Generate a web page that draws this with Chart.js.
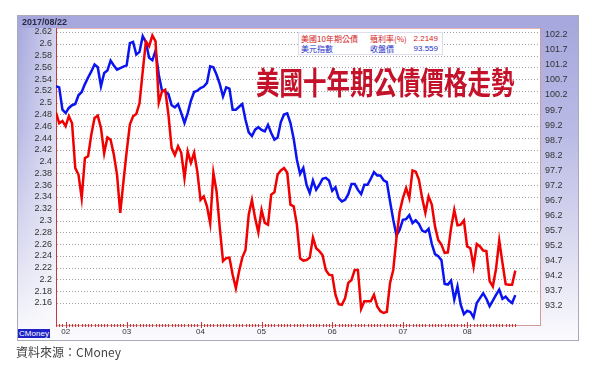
<!DOCTYPE html>
<html><head><meta charset="utf-8">
<script src="https://cdn.jsdelivr.net/npm/chart.js@4.4.1/dist/chart.umd.min.js"></script>
<style>
html,body{margin:0;padding:0;background:#fff;width:600px;height:366px;overflow:hidden;}
#wrap{position:relative;width:600px;height:366px;}
#frame{position:absolute;left:17px;top:15px;width:560px;height:324px;border:1px solid #aaaabb;
 background:linear-gradient(to bottom,#a5a7dd 0%,#b9bae5 35%,#dadaf0 70%,#fbfbfe 100%);}
#lband{position:absolute;left:18px;top:28px;width:38px;height:311px;background:linear-gradient(to right,rgba(255,255,255,0),rgba(255,255,255,0.5));}
canvas{position:absolute;left:0;top:0;}
.t{position:absolute;white-space:nowrap;}
#date{left:22px;top:17px;font:bold 9px "Liberation Sans",Arial,sans-serif;color:#2a2a44;line-height:10px;}
#legend{position:absolute;left:298px;top:32px;width:143px;height:21px;background:#fff;border:1px solid #dde;}
#legend div{position:absolute;font:8px "Noto Sans CJK TC","Liberation Sans",sans-serif;line-height:10px;white-space:nowrap;}
#title{left:256px;top:67px;font:700 23.5px "Noto Sans CJK TC",sans-serif;line-height:23.5px;color:#c4122a;transform:scaleY(1.3);transform-origin:0 0;}
#cm{left:18px;top:329px;width:32px;height:9px;background:#1e22c8;color:#fff;font:8px "Liberation Sans",Arial,sans-serif;line-height:9px;text-align:center;}
#src{left:16px;top:345px;font:12px "Noto Sans CJK TC",sans-serif;line-height:14px;color:#444;}
</style></head>
<body><div id="wrap">
<div id="frame"></div><div id="lband"></div>
<canvas id="c" width="600" height="366"></canvas>
<div class="t" id="date"></div>
<div id="legend"></div>
<div class="t" id="title"></div>
<div class="t" id="cm">CMoney</div>
<div class="t" id="src">資料來源：CMoney</div>
</div>
<script>
const asOfDate = '2017/08/22';
const chartTitle = '美國十年期公債價格走勢';
const seriesNames = ['美國10年期公債', '美元指數'];
const seriesFields = ['殖利率(%)', '收盤價'];
const months = ['02','03','04','05','06','07','08'];
const monthStartIdx = [3, 22, 45, 64, 86, 108, 128];
const leftTicks = [2.62,2.60,2.58,2.56,2.54,2.52,2.50,2.48,2.46,2.44,2.42,2.40,2.38,2.36,2.34,2.32,2.30,2.28,2.26,2.24,2.22,2.20,2.18,2.16];
const rightTicks = [102.2,101.7,101.2,100.7,100.2,99.7,99.2,98.7,98.2,97.7,97.2,96.7,96.2,95.7,95.2,94.7,94.2,93.7,93.2];

const yieldUS10Y = [
 2.483,2.465,2.469,2.460,2.477,2.465,2.389,2.378,2.338,2.406,
 2.409,2.446,2.474,2.478,2.457,2.414,2.441,2.437,2.412,2.378,
 2.313,2.366,2.417,2.463,2.477,2.481,2.499,2.553,2.604,2.596,
 2.614,2.604,2.500,2.519,2.522,2.480,2.423,2.411,2.426,2.415,
 2.372,2.417,2.398,2.415,2.383,2.335,2.341,2.324,2.295,2.381,
 2.349,2.287,2.231,2.236,2.237,2.208,2.185,2.214,2.237,2.250,
 2.310,2.335,2.304,2.280,2.318,2.296,2.293,2.344,2.348,2.378,
 2.385,2.389,2.381,2.327,2.324,2.293,2.236,2.232,2.233,2.237,
 2.271,2.253,2.248,2.241,2.216,2.208,2.207,2.174,2.158,2.157,
 2.168,2.194,2.199,2.216,2.216,2.150,2.163,2.163,2.163,2.174,
 2.154,2.146,2.143,2.145,2.194,2.216,2.270,2.315,2.338,2.355,
 2.338,2.385,2.383,2.369,2.338,2.313,2.341,2.327,2.290,2.267,
 2.259,2.245,2.246,2.287,2.318,2.292,2.293,2.300,2.256,2.253,
 2.222,2.260,2.256,2.249,2.248,2.197,2.188,2.218,2.266,2.228,
 2.192,2.191,2.191,2.2149
];
const dollarIndex = [
 100.49,100.45,99.71,99.60,99.77,99.86,99.90,100.19,100.30,100.56,
 100.78,100.98,101.21,101.12,100.49,100.93,101.01,101.34,101.18,101.04,
 101.09,101.14,101.18,101.92,101.96,101.54,101.63,102.15,101.95,101.43,
 101.35,101.67,100.87,100.34,100.32,100.23,99.86,99.79,99.90,99.60,
 99.27,99.60,100.01,100.30,100.34,100.43,100.48,100.60,101.15,101.12,
 100.87,100.56,100.15,100.45,100.41,99.71,99.71,99.81,99.90,99.38,
 98.96,98.84,99.05,99.13,99.04,98.99,99.21,98.94,98.72,98.79,
 99.30,99.55,99.59,99.27,98.75,98.05,97.58,97.78,97.22,96.95,
 97.36,97.06,97.22,97.42,97.45,97.36,97.02,97.14,96.78,96.67,
 96.72,96.91,97.25,97.25,97.05,96.91,97.22,97.22,97.42,97.64,
 97.53,97.53,97.37,97.31,96.67,96.06,95.54,95.73,96.06,96.08,
 96.21,95.95,96.04,95.92,95.70,95.65,95.76,95.26,94.92,94.85,
 94.72,93.93,93.91,94.04,93.41,93.85,93.24,92.93,93.04,93.00,
 92.82,93.30,93.46,93.62,93.44,93.19,93.38,93.57,93.74,93.44,
 93.51,93.38,93.30,93.559
];

document.getElementById('date').textContent = asOfDate;
document.getElementById('title').textContent = chartTitle;
(function buildLegend(){
  const lg = document.getElementById('legend');
  const lastVals = [yieldUS10Y[yieldUS10Y.length-1], dollarIndex[dollarIndex.length-1]];
  const colors = ['#d42020', '#2830c8'];
  for (let r = 0; r < 2; r++) {
    const top = 1 + r * 9.6;
    const a = document.createElement('div'); a.textContent = seriesNames[r]; a.style.left='2px'; a.style.top=top+'px'; a.style.color=colors[r];
    const b = document.createElement('div'); b.textContent = seriesFields[r]; b.style.left='71px'; b.style.top=top+'px'; b.style.color=colors[r];
    const c = document.createElement('div'); c.textContent = String(lastVals[r]); c.style.right='4px'; c.style.top=top+'px'; c.style.color=colors[r];
    c.style.fontFamily='"Liberation Sans",Arial,sans-serif';
    lg.appendChild(a); lg.appendChild(b); lg.appendChild(c);
  }
})();

const framePlugin = {
  id: 'framePlugin',
  beforeDraw(chart) {
    const {ctx, chartArea: a} = chart;
    ctx.save();
    ctx.fillStyle = '#fff';
    ctx.fillRect(a.left, a.top, a.right - a.left, a.bottom - a.top);
    ctx.restore();
  },
  beforeDatasetsDraw(chart) {
    const {ctx, chartArea: a} = chart;
    const xs = chart.scales.x, yl = chart.scales.yL;
    ctx.save();
    ctx.lineWidth = 1;
    // dotted horizontal grid at left-axis ticks
    ctx.strokeStyle = '#a0a0a0';
    ctx.setLineDash([1, 2]);
    leftTicks.forEach(v => {
      const y = Math.round(yl.getPixelForValue(v)) + 0.5;
      ctx.beginPath(); ctx.moveTo(a.left + 1, y); ctx.lineTo(a.right - 1, y); ctx.stroke();
    });
    ctx.setLineDash([]);
    ctx.strokeStyle = '#e2b4b4';
    ctx.beginPath(); ctx.moveTo(a.left, a.top + 0.5); ctx.lineTo(a.right, a.top + 0.5); ctx.stroke();
    ctx.strokeStyle = '#d49a9a';
    ctx.beginPath(); ctx.moveTo(a.right - 0.5, a.top); ctx.lineTo(a.right - 0.5, a.bottom); ctx.stroke();
    ctx.beginPath(); ctx.moveTo(a.left, a.bottom + 0.5); ctx.lineTo(a.right, a.bottom + 0.5); ctx.stroke();
    ctx.strokeStyle = '#c83a3a';
    ctx.beginPath(); ctx.moveTo(a.left + 0.5, a.top); ctx.lineTo(a.left + 0.5, a.bottom + 1); ctx.stroke();
    ctx.strokeStyle = '#d03030';
    for (let i = 0; i < yieldUS10Y.length; i++) {
      const x = Math.round(xs.getPixelForValue(i)) + 0.5;
      const isMonth = monthStartIdx.includes(i);
      ctx.beginPath();
      ctx.moveTo(x, a.bottom - (isMonth ? 3 : 1));
      ctx.lineTo(x, a.bottom + (isMonth ? 3 : 2));
      ctx.stroke();
    }
    ctx.restore();
  }
};

const tickFont = {family: '"Liberation Sans", Arial, sans-serif', size: 9};
new Chart(document.getElementById('c'), {
  type: 'line',
  data: {
    datasets: [
      {label: seriesNames[0], data: yieldUS10Y.map((v, i) => ({x: i, y: v})), yAxisID: 'yL',
       borderColor: '#f00000', borderWidth: 2.5, pointRadius: 0, tension: 0},
      {label: seriesNames[1], data: dollarIndex.map((v, i) => ({x: i, y: v})), yAxisID: 'yR',
       borderColor: '#0a14f0', borderWidth: 2.5, pointRadius: 0, tension: 0}
    ]
  },
  options: {
    responsive: false, animation: false, devicePixelRatio: 1,
    layout: {padding: {left: 18, right: 22, top: 28, bottom: 26}},
    plugins: {legend: {display: false}, tooltip: {enabled: false}},
    scales: {
      x: {
        type: 'linear', min: 0, max: 151,
        grid: {display: false, drawTicks: false}, border: {display: false},
        afterBuildTicks: s => { s.ticks = monthStartIdx.map(v => ({value: v})); },
        afterFit: s => { s.height = 15; },
        ticks: {autoSkip: false, maxRotation: 0, padding: 2, color: '#333',
          font: {family: '"Liberation Sans", Arial, sans-serif', size: 8},
          callback: v => { const k = monthStartIdx.indexOf(v); return k >= 0 ? months[k] : ''; }}
      },
      yL: {
        position: 'left', min: 2.1226, max: 2.6268,
        afterBuildTicks: s => { s.ticks = leftTicks.map(v => ({value: v})); },
        afterFit: s => { s.width = 38; },
        grid: {display: false, drawTicks: false},
        border: {display: false},
        ticks: {autoSkip: false, padding: 4, color: '#333', font: tickFont,
          callback: v => String(+(+v).toFixed(2))}
      },
      yR: {
        position: 'right', min: 92.568, max: 102.422,
        afterBuildTicks: s => { s.ticks = rightTicks.map(v => ({value: v})); },
        afterFit: s => { s.width = 37; },
        grid: {display: false, drawTicks: false}, border: {display: false},
        ticks: {autoSkip: false, padding: 4, color: '#333', font: tickFont,
          callback: v => String(+(+v).toFixed(1))}
      }
    }
  },
  plugins: [framePlugin]
});
</script>
</body></html>
